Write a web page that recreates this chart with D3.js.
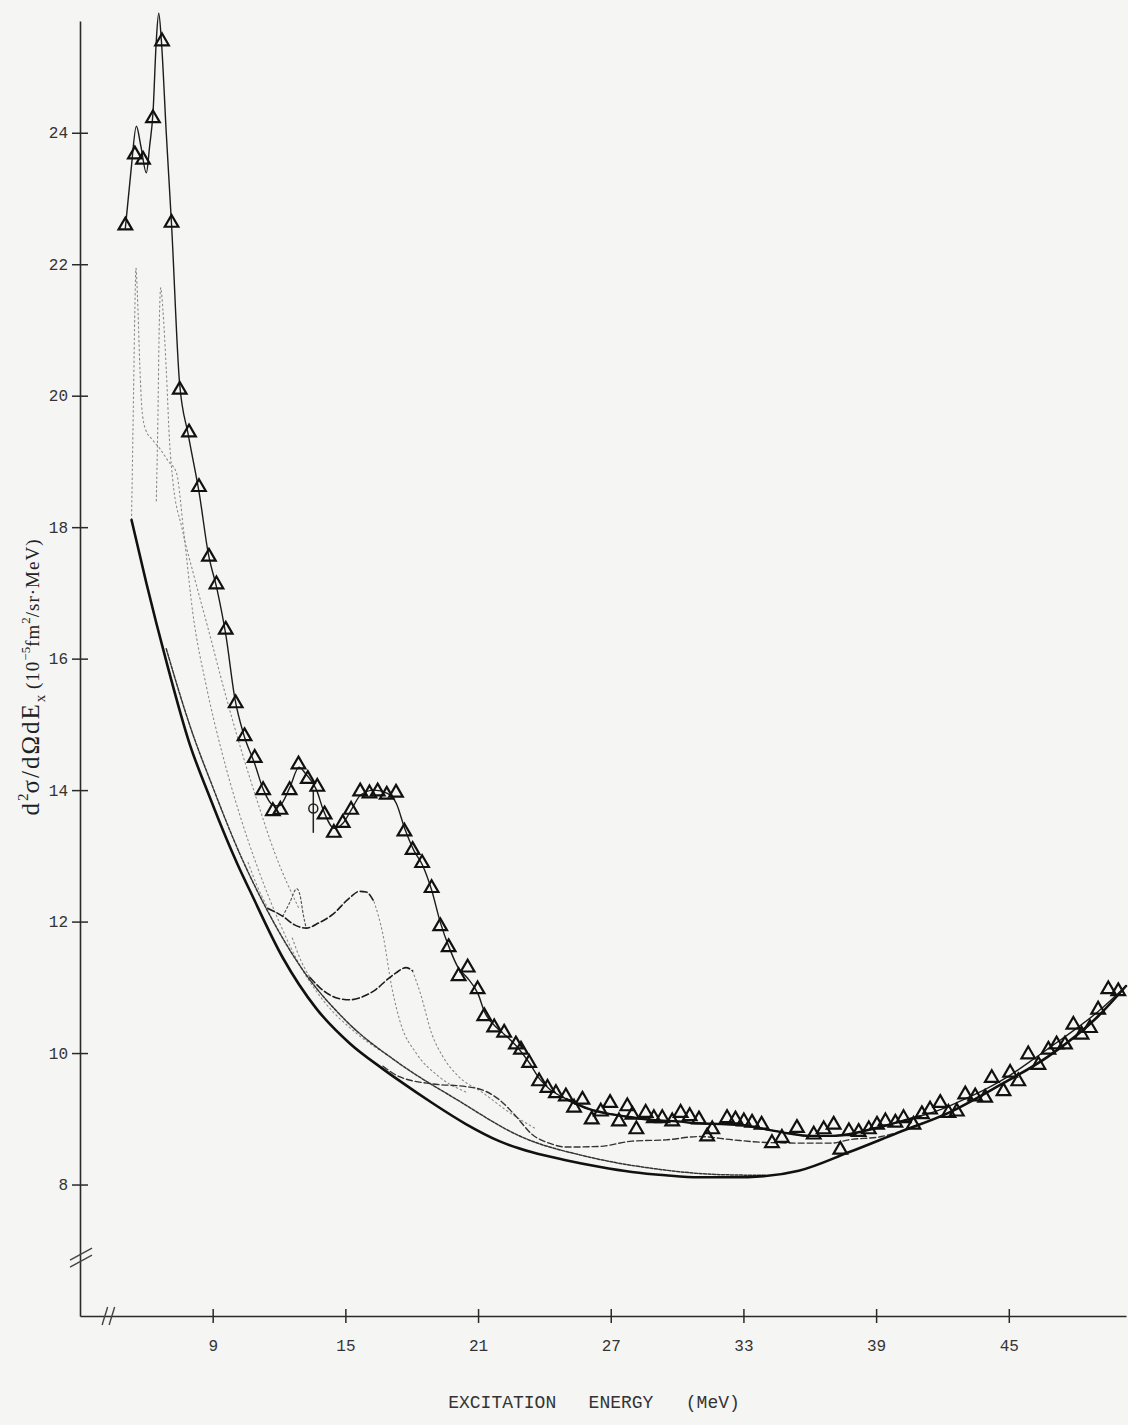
<!DOCTYPE html>
<html><head><meta charset="utf-8">
<script src="https://cdn.jsdelivr.net/npm/d3@7"></script>
<style>html,body{margin:0;padding:0;background:#f5f5f3;}svg{display:block}</style>
</head><body>
<svg id="c" width="1128" height="1425"></svg>
<script>
// ---- tick labels ----
const energyTicks = [9, 15, 21, 27, 33, 39, 45];
const valueTicks = [8, 10, 12, 14, 16, 18, 20, 22, 24];

// ---- measured data (triangles): [E (MeV), d2sigma] ----
const measured = [[5.05,22.59],[5.48,23.67],[5.85,23.59],[6.30,24.22],[6.71,25.39],[7.14,22.63],[7.51,20.09],[7.93,19.44],[8.38,18.61],[8.83,17.55],[9.17,17.13],[9.59,16.44],[10.04,15.32],[10.44,14.82],[10.90,14.49],[11.28,14.0],[11.72,13.68],[12.06,13.70],[12.48,14.0],[12.88,14.39],[13.30,14.17],[13.73,14.05],[14.06,13.63],[14.48,13.35],[14.88,13.50],[15.26,13.70],[15.67,13.98],[16.09,13.95],[16.46,13.98],[16.87,13.93],[17.29,13.96],[17.67,13.37],[18.04,13.09],[18.47,12.89],[18.90,12.51],[19.29,11.93],[19.67,11.61],[20.12,11.17],[20.53,11.30],[20.98,10.97],[21.28,10.56],[21.73,10.39],[22.18,10.31],[22.71,10.13],[22.94,10.05],[23.31,9.85],[23.76,9.57],[24.14,9.47],[24.52,9.39],[24.97,9.34],[25.34,9.17],[25.72,9.29],[26.14,8.99],[26.55,9.11],[26.97,9.24],[27.37,8.96],[27.75,9.19],[27.98,9.06],[28.16,8.84],[28.58,9.09],[28.95,9.01],[29.33,9.01],[29.78,8.96],[30.16,9.09],[30.57,9.04],[30.99,8.99],[31.36,8.73],[31.59,8.84],[32.26,9.01],[32.64,8.99],[33.02,8.96],[33.39,8.94],[33.82,8.91],[34.29,8.63],[34.74,8.71],[35.42,8.86],[36.18,8.76],[36.63,8.84],[37.08,8.91],[37.38,8.53],[37.77,8.81],[38.21,8.80],[38.67,8.84],[39.04,8.91],[39.42,8.96],[39.87,8.94],[40.24,9.01],[40.69,8.91],[41.07,9.07],[41.44,9.14],[41.90,9.24],[42.27,9.09],[42.65,9.11],[43.03,9.37],[43.48,9.34],[43.93,9.32],[44.23,9.62],[44.76,9.42],[45.06,9.70],[45.43,9.57],[45.88,9.98],[46.34,9.82],[46.79,10.05],[47.16,10.13],[47.54,10.13],[47.92,10.43],[48.29,10.28],[48.67,10.38],[49.04,10.66],[49.50,10.97],[49.95,10.94]];

// ---- extra point with error bar: [E, value, low, high] ----
const extraPoints = [[13.55, 13.72, 13.35, 14.0]];

// ---- total fit (thin solid) ----
const totalFit = [[5.05,22.55],[5.3,23.4],[5.55,24.1],[5.75,23.8],[6.0,23.39],[6.15,23.8],[6.3,24.3],[6.45,25.4],[6.56,25.82],[6.68,25.4],[6.9,24.0],[7.14,22.6],[7.5,20.2],[7.9,19.4],[8.4,18.5],[8.8,17.6],[9.2,17.05],[9.6,16.35],[10.0,15.4],[10.4,14.85],[10.9,14.4],[11.3,14.0],[11.7,13.78],[12.0,13.76],[12.5,14.05],[12.9,14.35],[13.2,14.25],[13.7,14.0],[14.0,13.7],[14.5,13.42],[14.9,13.5],[15.3,13.72],[15.7,13.93],[16.3,14.0],[16.9,13.95],[17.3,13.8],[17.7,13.4],[18.1,13.08],[18.5,12.85],[18.9,12.48],[19.3,11.98],[19.7,11.6],[20.1,11.3],[20.5,11.15],[21.0,10.9],[21.3,10.62],[21.8,10.4],[22.2,10.28],[22.7,10.12],[23.3,9.86],[23.8,9.6],[24.2,9.46],[25.0,9.3],[26,9.15],[27,9.07],[28,9.02],[29,8.98],[30,8.96],[31,8.93],[32,8.92],[33,8.9],[34,8.84],[35,8.78],[36,8.74],[37,8.74],[38,8.78],[39,8.86],[40,8.95],[41,9.04],[42,9.15],[43,9.3],[44,9.46],[45,9.65],[46,9.88],[47,10.12],[48,10.36],[49,10.62],[50.3,11.02]];

// ---- radiative-tail background (thick solid) ----
const background = [[5.33,18.11],[6.0,17.15],[6.91,15.95],[7.96,14.7],[8.86,13.9],[9.6,13.28],[10.22,12.8],[10.67,12.48],[12.17,11.45],[13.68,10.68],[15.19,10.15],[16.69,9.76],[17.44,9.58],[18.93,9.24],[20.45,8.92],[21.96,8.66],[23.45,8.49],[24.97,8.37],[26.47,8.27],[27.96,8.19],[29.48,8.14],[30.99,8.11],[32.48,8.11],[34.0,8.13],[35.5,8.21],[37.76,8.49],[40.0,8.79],[42.27,9.09],[44.53,9.50],[46.79,9.95],[49.04,10.56],[50.3,11.02]];

// ---- background + small contributions (near background) ----
const backgroundPlus = [[6.9,16.15],[8.0,14.95],[9.0,14.05],[10.2,13.05],[11.5,12.15],[13.0,11.3],[15.0,10.5],[17.4,9.85],[20.0,9.3],[23.0,8.72],[26.0,8.42],[29.0,8.24],[32.0,8.15],[34.0,8.14]];

// ---- component curves (dotted, faint) at low energy ----
const peak55 = [[5.33,18.11],[5.42,20.0],[5.48,21.3],[5.53,21.94],[5.6,21.5],[5.7,20.5],[5.8,19.8],[5.95,19.5],[6.3,19.32],[6.6,19.2],[7.0,19.0],[7.36,18.83],[7.7,17.9],[8.1,16.7],[8.7,15.6],[9.4,14.6],[10.2,13.65],[11.0,12.85],[12.0,12.0],[13.0,11.3],[14.0,10.8],[15.5,10.3],[17.0,9.95]];
const peak66 = [[6.45,18.4],[6.52,19.6],[6.58,21.0],[6.65,21.64],[6.75,21.3],[6.9,20.4],[7.05,19.3],[7.2,18.7],[7.6,18.0],[8.2,17.2],[8.8,16.45],[9.5,15.55],[10.3,14.6],[11.0,13.85],[11.8,13.05],[12.9,12.2]];

// ---- resonance component curves ----
const humpA = [[11.5,12.2],[12.17,12.08],[12.7,11.95],[13.23,11.9],[13.8,11.98],[14.43,12.11],[15.19,12.36],[15.64,12.46],[15.94,12.45],[16.3,12.3]];
const humpATail = [[16.3,12.3],[16.7,11.8],[17.1,11.0],[17.5,10.45],[18.2,10.0],[19.2,9.65],[20.5,9.4]];
const humpALead = [[10.6,12.9],[11.0,12.55],[11.5,12.2]];
const peak128 = [[12.17,12.08],[12.5,12.3],[12.8,12.5],[12.95,12.4],[13.1,12.1],[13.23,11.9]];
const humpB = [[13.4,11.15],[13.83,11.0],[14.13,10.92],[14.7,10.83],[15.19,10.81],[15.8,10.86],[16.39,10.97],[16.9,11.12],[17.29,11.22],[17.74,11.30],[18.04,11.25]];
const humpBTail = [[18.04,11.25],[18.4,10.9],[18.9,10.3],[19.4,9.95],[20.1,9.65],[21.2,9.4],[22.4,9.1],[23.6,8.85]];
const humpBLead = [[12.6,11.75],[13.0,11.4],[13.4,11.15]];
const humpC = [[16.7,9.8],[17.44,9.64],[18.95,9.53],[20.45,9.49],[21.19,9.44],[21.96,9.29],[22.71,9.04],[23.45,8.76],[24.21,8.63],[24.97,8.57],[26.5,8.58],[27.96,8.66],[29.5,8.68],[30.99,8.73],[32.5,8.68],[34.0,8.64],[35.5,8.63],[37.0,8.63],[37.76,8.68],[39.25,8.73],[40.77,8.89],[42.0,9.05]];

// ---- scales ----
const svg = d3.select('#c');
const x = d3.scaleLinear().domain([3, 50.3]).range([80, 1126]);
const y = d3.scaleLinear().domain([6, 25.7]).range([1316, 21]);
const ink = '#1c1c1c';
const mono = '"Liberation Mono", "DejaVu Sans Mono", monospace';

// ---- axes ----
const xAxis = svg.append('g').attr('transform', `translate(0,${y(6)})`)
  .call(d3.axisBottom(x).tickValues(energyTicks).tickSize(7).tickSizeOuter(0).tickPadding(17));
xAxis.selectAll('.tick line').attr('y1', -7).attr('y2', 7);
const yAxis = svg.append('g').attr('transform', `translate(${x(3)},0)`)
  .call(d3.axisLeft(y).tickValues(valueTicks).tickSize(8).tickSizeOuter(0).tickPadding(4));
yAxis.selectAll('.tick line').attr('x1', -8).attr('x2', 8);
[xAxis, yAxis].forEach(a => {
  a.select('.domain').attr('stroke', '#2a2a2a').attr('stroke-width', 1.6);
  a.selectAll('.tick line').attr('stroke', '#2a2a2a').attr('stroke-width', 1.5);
  a.selectAll('.tick text').attr('font-family', mono).attr('font-size', 16).attr('fill', '#333');
});

// axis break marks
const brk = svg.append('g').attr('stroke', '#444').attr('stroke-width', 1.4).attr('fill', 'none');
[0, 7].forEach(o => {
  brk.append('line').attr('x1', x(3) - 10).attr('y1', y(6.85) + o).attr('x2', x(3) + 12).attr('y2', y(6.85) - 12 + o);
  brk.append('line').attr('x1', x(4.0) + o).attr('y1', y(6) + 9).attr('x2', x(4.25) + o).attr('y2', y(6) - 9);
});

// ---- curves ----
const line = d3.line().x(d => x(d[0])).y(d => y(d[1])).curve(d3.curveMonotoneX);
const draw = (data, stroke, width, dash) => svg.append('path').datum(data)
  .attr('d', line).attr('fill', 'none').attr('stroke', stroke).attr('stroke-width', width)
  .attr('stroke-dasharray', dash || null).attr('stroke-linecap', 'round');

draw(peak55, '#8a8a8a', 1.1, '1.5,3');
draw(peak66, '#8a8a8a', 1.1, '1.5,3');
draw(backgroundPlus, '#333', 1.5, '3,1.5');
draw(humpALead, '#888', 1.1, '1.5,3');
draw(humpATail, '#888', 1.1, '1.5,3');
draw(humpBLead, '#888', 1.1, '1.5,3');
draw(humpBTail, '#888', 1.1, '1.5,3');
draw(peak128, '#555', 1.2, '2,2.5');
draw(humpA, ink, 1.6, '7,3');
draw(humpB, ink, 1.6, '7,3');
draw(humpC, '#333', 1.4, '6,3');
draw(background, '#111', 2.6);
draw(totalFit, ink, 1.4);
draw(totalFit.filter(d => d[0] >= 25 && d[0] <= 41), '#111', 2.4);

// ---- extra point with error bar ----
const ex = svg.append('g').attr('stroke', '#222').attr('fill', 'none').attr('stroke-width', 1.5);
ex.selectAll('line').data(extraPoints).join('line')
  .attr('x1', d => x(d[0])).attr('x2', d => x(d[0])).attr('y1', d => y(d[2])).attr('y2', d => y(d[3]));
ex.selectAll('circle').data(extraPoints).join('circle')
  .attr('cx', d => x(d[0])).attr('cy', d => y(d[1])).attr('r', 4.5);

// ---- measured points ----
svg.append('g').selectAll('path').data(measured).join('path')
  .attr('transform', d => `translate(${x(d[0])},${y(d[1])})`)
  .attr('d', d3.symbol().type(d3.symbolTriangle).size(80))
  .attr('fill', 'none').attr('stroke', '#111').attr('stroke-width', 2.2);

// ---- axis titles ----
svg.append('text').attr('x', 594).attr('y', 1408).attr('text-anchor', 'middle')
  .attr('font-family', mono).attr('font-size', 18).attr('fill', '#333')
  .style('white-space', 'pre').text('EXCITATION   ENERGY   (MeV)');

const yt = svg.append('text').attr('transform', 'translate(39,677) rotate(-90)')
  .attr('text-anchor', 'middle').attr('font-family', '"Liberation Serif", "DejaVu Serif", serif')
  .attr('fill', '#222');
yt.append('tspan').attr('font-size', 25).attr('letter-spacing', 2).text('d');
yt.append('tspan').attr('font-size', 15).attr('dy', -11).text('2');
yt.append('tspan').attr('font-size', 25).attr('dy', 11).attr('letter-spacing', 2).text('σ/dΩdE');
yt.append('tspan').attr('font-size', 15).attr('dy', 6).text('x');
yt.append('tspan').attr('font-size', 19).attr('dy', -6).attr('letter-spacing', 1).text('  (10');
yt.append('tspan').attr('font-size', 13).attr('dy', -9).text('−5');
yt.append('tspan').attr('font-size', 19).attr('dy', 9).attr('letter-spacing', 1).text('fm');
yt.append('tspan').attr('font-size', 13).attr('dy', -9).text('2');
yt.append('tspan').attr('font-size', 19).attr('dy', 9).attr('letter-spacing', 1).text('/sr·MeV)');
</script>
</body></html>
